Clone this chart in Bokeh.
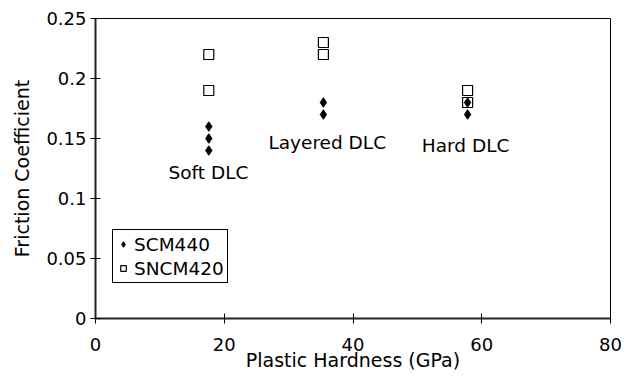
from bokeh.plotting import figure
from bokeh.models import FixedTicker, Legend, LegendItem, Range1d
from bokeh.core.properties import value
from bokeh.embed import file_html
from bokeh.resources import INLINE

# data
scm440_x = [17.6, 17.6, 17.6, 35.4, 35.4, 57.8, 57.8]
scm440_y = [0.16, 0.15, 0.14, 0.18, 0.17, 0.18, 0.17]
sncm420_x = [17.6, 17.6, 35.4, 35.4, 57.8, 57.8]
sncm420_y = [0.22, 0.19, 0.23, 0.22, 0.19, 0.18]
label_text = ["Soft DLC", "Layered DLC", "Hard DLC"]
label_x = [17.55, 36.0, 57.5]
label_y = [0.122, 0.147, 0.144]
x_ticks = [0, 20, 40, 60, 80]
y_ticks = [0, 0.05, 0.1, 0.15, 0.2, 0.25]
y_tick_labels = ["0", "0.05", "0.1", "0.15", "0.2", "0.25"]

FONT = "DejaVu Sans"

p = figure(width=634, height=376, output_backend="svg", toolbar_location=None,
           x_range=Range1d(0, 80), y_range=Range1d(0, 0.25),
           min_border_left=95, min_border_right=24, min_border_top=18, min_border_bottom=58)
p.grid.visible = False
p.outline_line_color = "black"
p.outline_line_width = 1

for ax in (p.xaxis[0], p.yaxis[0]):
    ax.major_tick_in = 5
    ax.major_tick_out = 5
    ax.minor_tick_in = 0
    ax.minor_tick_out = 0
    ax.axis_line_color = "#222222"
    ax.axis_line_width = 2
    ax.major_tick_line_color = "black"
    ax.major_label_text_font = FONT
    ax.major_label_text_font_size = "18px"
    ax.major_label_text_color = "black"
    ax.axis_label_text_font = FONT
    ax.axis_label_text_font_size = "19px"
    ax.axis_label_text_font_style = "normal"
    ax.axis_label_text_color = "black"

p.xaxis.ticker = FixedTicker(ticks=x_ticks)
p.yaxis.ticker = FixedTicker(ticks=y_ticks)
p.yaxis.major_label_overrides = {t: l for t, l in zip(y_ticks, y_tick_labels)}
p.xaxis.axis_label = "Plastic Hardness (GPa)"
p.yaxis.axis_label = "Friction Coefficient"
p.xaxis.major_label_standoff = 14
p.xaxis.axis_label_standoff = -5
p.yaxis.major_label_standoff = 4
p.yaxis.axis_label_standoff = 10

r1 = p.scatter(scm440_x, scm440_y, marker="diamond", size=9.5, fill_color="black", line_color="black")
r2 = p.scatter(sncm420_x, sncm420_y, marker="square", size=10, fill_alpha=0, line_color="black", line_width=1.2)

p.text(x=label_x, y=label_y, text=label_text, text_font=value(FONT), text_font_size="18.5px",
       text_align="center", text_baseline="middle", text_color="black")

legend = Legend(items=[LegendItem(label="SCM440", renderers=[r1]),
                       LegendItem(label="SNCM420", renderers=[r2])],
                location=(17, 35), border_line_color="black", border_line_width=1,
                border_line_alpha=1,
                label_text_font=FONT, label_text_font_size="18.5px", label_text_color="black",
                padding=3, spacing=2, margin=0, glyph_width=14, label_standoff=4,
                label_height=22, glyph_height=22, background_fill_alpha=1)
p.add_layout(legend, "center")

open("out.html", "w").write(file_html(p, INLINE))
